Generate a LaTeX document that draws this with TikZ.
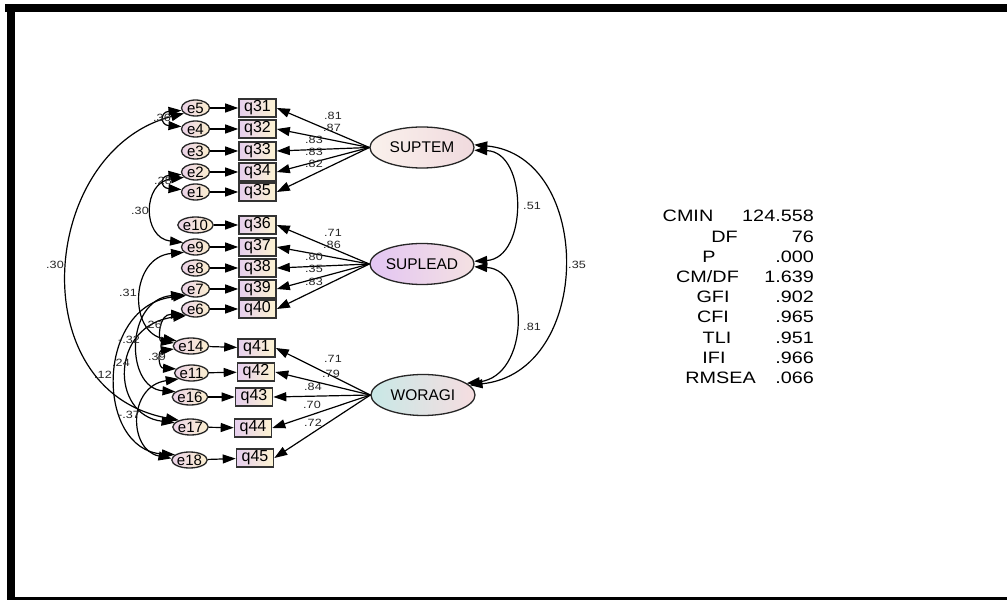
\documentclass[tikz,border=0pt]{standalone}
\usepackage{fontspec}
\setmainfont{Liberation Sans}
\newfontfamily\widefont[FakeStretch=1.2]{Liberation Sans}
\usetikzlibrary{arrows.meta,shapes.geometric}
\definecolor{errL}{HTML}{EBD3E8}
\definecolor{errR}{HTML}{FBEFCF}
\definecolor{boxL}{HTML}{E6CFEE}
\definecolor{boxR}{HTML}{FDF4D2}
\definecolor{stL}{HTML}{FAF1EC}
\definecolor{stR}{HTML}{F0DADE}
\definecolor{slL}{HTML}{E3C5F3}
\definecolor{slR}{HTML}{F4E1E2}
\definecolor{wgL}{HTML}{C8E8E6}
\definecolor{wgR}{HTML}{F6DDE0}
\tikzset{
  err/.style={ellipse, draw=black!85, line width=1.3pt, minimum width=28pt, minimum height=16pt, inner sep=0pt, left color=errL, right color=errR, font=\fontsize{15}{15}\selectfont},
  obs/.style={rectangle, draw=black!80, line width=1.6pt, minimum width=37pt, minimum height=18pt, inner sep=0pt, left color=boxL, right color=boxR, font=\fontsize{16}{16}\selectfont},
  lat/.style={ellipse, draw=black!85, line width=1.3pt, minimum width=104pt, minimum height=41pt, inner sep=0pt, font=\fontsize{15.5}{15.5}\selectfont},
  arr/.style={line width=1.2pt, -{Triangle[length=13pt,width=9pt]}},
  cov/.style={line width=1.2pt, {Triangle[length=13pt,width=9pt]}-{Triangle[length=13pt,width=9pt]}},
  lbl/.style={font=\widefont\fontsize{10.5}{10.5}\selectfont, text=black!85, inner sep=0pt},
  stat/.style={font=\widefont\fontsize{16.5}{16.5}\selectfont, inner sep=0pt}
}
\begin{document}
\begin{tikzpicture}[x=1pt,y=-1pt]
\useasboundingbox (0,0) rectangle (1007,601);
\fill[white] (0,0) rectangle (1007,601);
% frame
\fill[black] (5,4) rectangle (1007,12.5);
\fill[black] (6.5,4) rectangle (15,600);
\fill[black] (6.5,597) rectangle (1007,600);

% latent variables
\node[lat, left color=stL, right color=stR] (SUPTEM) at (422,147.5) {SUPTEM};
\node[lat, left color=slL, right color=slR] (SUPLEAD) at (422,264) {SUPLEAD};
\node[lat, left color=wgL, right color=wgR] (WORAGI) at (423,395) {WORAGI};

% observed boxes
\node[obs] (q31) at (257.5,108) {q31};
\node[obs] (q32) at (257.5,129) {q32};
\node[obs] (q33) at (257.5,151) {q33};
\node[obs] (q34) at (257.5,172) {q34};
\node[obs] (q35) at (257.5,192) {q35};
\node[obs] (q36) at (257.5,225) {q36};
\node[obs] (q37) at (257.5,247) {q37};
\node[obs] (q38) at (257.5,268) {q38};
\node[obs] (q39) at (257.5,289) {q39};
\node[obs] (q40) at (257.5,309) {q40};
\node[obs] (q41) at (256.5,348) {q41};
\node[obs] (q42) at (256,372) {q42};
\node[obs] (q43) at (254,397) {q43};
\node[obs] (q44) at (253,428) {q44};
\node[obs] (q45) at (255,458) {q45};

% error terms
\node[err] (e5) at (195.5,108) {e5};
\node[err] (e4) at (195.5,129) {e4};
\node[err] (e3) at (195.5,151) {e3};
\node[err] (e2) at (195.5,172) {e2};
\node[err] (e1) at (195.5,192) {e1};
\node[err] (e10) at (195.5,225) {e10};
\node[err] (e9) at (195.5,247) {e9};
\node[err] (e8) at (195.5,268) {e8};
\node[err] (e7) at (195.5,289) {e7};
\node[err] (e6) at (195.5,309) {e6};
\node[err] (e14) at (191,346) {e14};
\node[err] (e11) at (191.5,373) {e11};
\node[err] (e16) at (190,397) {e16};
\node[err] (e17) at (190.5,427) {e17};
\node[err] (e18) at (189.5,460) {e18};

% error -> item
\foreach \e/\q in {e5/q31,e4/q32,e3/q33,e2/q34,e1/q35,e10/q36,e9/q37,e8/q38,e7/q39,e6/q40,e14/q41,e11/q42,e16/q43,e17/q44,e18/q45}
  \draw[arr] (\e) -- (\q);

% loadings
\foreach \q in {q31,q32,q33,q34,q35} \draw[arr] (SUPTEM.west) -- (\q.east);
\foreach \q in {q36,q37,q38,q39,q40} \draw[arr] (SUPLEAD.west) -- (\q.east);
\foreach \q in {q41,q42,q43,q44,q45} \draw[arr] (WORAGI.west) -- (\q.east);

\node[lbl] (l31) at (333,116) {.81};
\node[lbl] (l32) at (332,128) {.87};
\node[lbl] (l33) at (314,140) {.83};
\node[lbl] (l34) at (314,152) {.83};
\node[lbl] (l35) at (314,164) {.82};
\node[lbl] (l36) at (333,233) {.71};
\node[lbl] (l37) at (332,245) {.86};
\node[lbl] (l38) at (314,257) {.80};
\node[lbl] (l39) at (314,269) {.35};
\node[lbl] (l40) at (314,282) {.83};
\node[lbl] (l41) at (333,359) {.71};
\node[lbl] (l42) at (331,374) {.79};
\node[lbl] (l43) at (313,387) {.84};
\node[lbl] (l44) at (312,405) {.70};
\node[lbl] (l45) at (313,423) {.72};

% latent covariances
\draw[cov] (SUPTEM.-3) .. controls (528,152) and (528,258) .. (SUPLEAD.3);
\draw[cov] (SUPLEAD.-3) .. controls (530,270) and (530,376) .. (WORAGI.15);
\draw[cov] (SUPTEM.3) .. controls (594,156) and (594,372) .. (WORAGI.12);
\node[lbl] (c51) at (532,206) {.51};
\node[lbl] (c81) at (532,327) {.81};
\node[lbl] (c35) at (577,265) {.35};

% error covariances
\draw[cov] (e5.190) .. controls (160,112) and (160,125) .. (e4.170);
\draw[cov] (e2.190) .. controls (160,176) and (160,188) .. (e1.170);
\draw[cov] (e2.205) .. controls (142,182) and (142,238) .. (e9.160);
\draw[cov] (e5.205) .. controls (40,150) and (20,390) .. (e17.150);
\draw[cov] (e9.205) .. controls (130,257) and (128,333) .. (e14.160);
\draw[cov] (e6.205) .. controls (158,314) and (158,341) .. (e14.170);
\draw[cov] (e14.190) .. controls (158,351) and (158,368) .. (e11.165);
\draw[cov] (e7.205) .. controls (125,300) and (125,388) .. (e16.160);
\draw[cov] (e6.215) .. controls (110,325) and (110,415) .. (e17.165);
\draw[cov] (e7.215) .. controls (95,305) and (95,450) .. (e18.160);
\draw[cov] (e11.205) .. controls (128,386) and (128,450) .. (e18.175);
\node[lbl] (k1) at (162,118) {.36};
\node[lbl] (k2) at (163,181) {.28};
\node[lbl] (k3) at (140,211) {.30};
\node[lbl] (k4) at (55,265) {.30};
\node[lbl] (k5) at (128,293) {.31};
\node[lbl] (k6) at (153,325) {.26};
\node[lbl] (k7) at (157,357) {.39};
\node[lbl] (k8) at (129,340) {-.32};
\node[lbl] (k9) at (121,363) {.24};
\node[lbl] (k10) at (103,375) {.12};
\node[lbl] (k11) at (129,415) {-.37};

% fit statistics
\node[stat] (s1) at (688,216) {CMIN};
\node[stat] (s2) at (724.5,237) {DF};
\node[stat] (s3) at (709,257) {P};
\node[stat] (s4) at (707.5,277) {CM/DF};
\node[stat] (s5) at (713,297) {GFI};
\node[stat] (s6) at (713,317) {CFI};
\node[stat] (s7) at (717,338) {TLI};
\node[stat] (s8) at (714,358) {IFI};
\node[stat] (s9) at (720.5,378) {RMSEA};
\node[stat, anchor=east] (v1) at (814,216) {124.558};
\node[stat, anchor=east] (v2) at (814,237) {76};
\node[stat, anchor=east] (v3) at (814,257) {.000};
\node[stat, anchor=east] (v4) at (814,277) {1.639};
\node[stat, anchor=east] (v5) at (814,297) {.902};
\node[stat, anchor=east] (v6) at (814,317) {.965};
\node[stat, anchor=east] (v7) at (814,338) {.951};
\node[stat, anchor=east] (v8) at (814,358) {.966};
\node[stat, anchor=east] (v9) at (814,378) {.066};
\end{tikzpicture}
\end{document}
